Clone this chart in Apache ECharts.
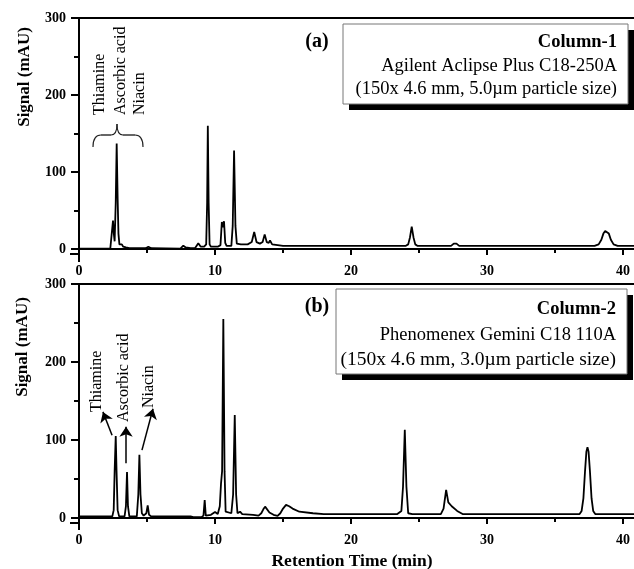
<!DOCTYPE html>
<html>
<head>
<meta charset="utf-8">
<script src="https://cdn.jsdelivr.net/npm/echarts@6/dist/echarts.min.js"></script>
<style>html,body{margin:0;padding:0;background:#fff}#c{width:634px;height:569px}</style>
</head>
<body>
<div id="c"></div>
<script>
// Panel (a): Column-1 chromatogram (retention time in min, signal in mAU)
const timesA = [0, 2.3, 2.42, 2.5, 2.56, 2.62, 2.7, 2.77, 2.84, 2.9, 2.97, 3.05, 3.15, 3.25, 3.35, 3.45, 3.7, 4.9, 5.1, 5.3,
  7.45, 7.67, 7.85, 8.2, 8.55, 8.77, 8.95, 9.2, 9.35, 9.42, 9.47, 9.53, 9.6, 9.7, 10.2, 10.4, 10.5, 10.58, 10.66, 10.75, 10.85,
  11.2, 11.3, 11.4, 11.5, 11.6, 11.9, 12.4, 12.7, 12.88, 13.05, 13.3, 13.5, 13.65, 13.8, 13.95, 14.04, 14.2, 14.6, 15,
  24.0, 24.2, 24.33, 24.46, 24.59, 24.72, 24.9, 27.35, 27.55, 27.65, 27.75, 27.95,
  37.9, 38.2, 38.4, 38.55, 38.68, 38.75, 38.82, 38.95, 39.1, 39.3, 39.6, 41];
const signalA = [0.5, 0.5, 2, 37, 20, 10, 60, 137, 66, 20, 6, 4, 6, 3, 5, 2, 1, 1, 3, 1,
  0.5, 4.3, 2, 1, 1.5, 7.4, 3, 3, 6, 60, 160, 60, 6, 3, 3, 5, 35, 28, 36, 8, 4,
  4, 30, 128, 30, 7, 6, 6, 9, 22, 9, 7, 9, 19, 9, 8, 11, 6, 5, 4,
  4, 6, 15, 29, 15, 6, 4, 4, 7, 9.5, 7, 4,
  4, 6, 12, 20, 23.5, 24, 23.5, 20, 12, 6, 4, 4];
// Panel (b): Column-2 chromatogram
const timesB = [0, 2.45, 2.55, 2.62, 2.7, 2.76, 2.84, 2.95, 3.35, 3.45, 3.53, 3.6, 3.7, 4.25, 4.36, 4.44, 4.52, 4.62, 4.75, 4.95, 5.05, 5.15, 5.3,
  8.2, 8.4, 9.0, 9.15, 9.24, 9.32, 9.7, 10.0, 10.2, 10.35, 10.44, 10.52, 10.61, 10.7, 10.78, 11.2, 11.33, 11.45, 11.55, 11.65, 11.84, 12.0,
  12.8, 13.2, 13.4, 13.55, 13.68, 13.82, 14.0, 14.3, 14.6, 14.8, 15.0, 15.22, 15.45, 15.7, 16.2, 17.2, 18,
  23.4, 23.7, 23.82, 23.95, 24.07, 24.2, 24.5, 26.6, 26.8, 26.99, 27.15, 27.4, 27.8, 28.2,
  36.8, 36.95, 37.08, 37.2, 37.3, 37.38, 37.46, 37.56, 37.68, 37.8, 37.95, 41];
const signalB = [2, 2, 10, 60, 105, 60, 10, 2, 2, 15, 59, 15, 2, 2, 30, 81, 30, 6, 3, 6, 16, 4, 2,
  2, 1, 1, 3, 23, 3, 4, 7.7, 5, 15, 44, 60, 255, 60, 8, 6, 30, 132, 30, 6, 8, 5,
  4, 3, 6, 11, 14.5, 12, 7, 4, 2.5, 6, 12, 16.7, 15, 12, 8, 6, 5,
  5, 9, 40, 113, 40, 6, 5, 5, 12, 36, 20, 15, 9, 5,
  5, 9, 25, 60, 85, 90.6, 85, 60, 25, 9, 5, 5];
const xTickLabels = [0, 10, 20, 30, 40];
const xMinorTicks = [5, 15, 25, 35];
const yTickLabels = [0, 100, 200, 300];
const yMinorTicks = [50, 150, 250];
const peakNames = ['Thiamine', 'Ascorbic acid', 'Niacin'];
const columnA = ['Column-1', 'Agilent Aclipse Plus C18-250A', '(150x 4.6 mm, 5.0\u00b5m particle size)'];
const columnB = ['Column-2', 'Phenomenex Gemini C18 110A', '(150x 4.6 mm, 3.0\u00b5m particle size)'];
// arrows in panel (b), in data units [time, signal]
const arrowsB = [[[2.43, 106], [1.76, 136]], [[3.46, 70], [3.46, 117]], [[4.63, 87], [5.44, 140]]];

const SERIF = '"Liberation Serif", "DejaVu Serif", serif';
const X_MAX = 40.8, Y_MIN = -6.5, Y_MAX = 300;

function xAxes(g) {
  return [
    { gridIndex: g, type: 'value', min: 0, max: X_MAX, position: 'bottom',
      axisLine: { show: true, lineStyle: { color: '#000', width: 2 } },
      axisTick: { show: true, customValues: xTickLabels, length: 6, lineStyle: { color: '#000', width: 2 } },
      axisLabel: { show: true, customValues: xTickLabels, margin: 10, color: '#000', fontFamily: SERIF, fontWeight: 'bold', fontSize: 14 },
      splitLine: { show: false } },
    { gridIndex: g, type: 'value', min: 0, max: X_MAX, position: 'bottom',
      axisLine: { show: false },
      axisTick: { show: true, customValues: xMinorTicks, length: 4, lineStyle: { color: '#000', width: 2 } },
      axisLabel: { show: false }, splitLine: { show: false } },
    { gridIndex: g, type: 'value', min: 0, max: X_MAX, position: 'top',
      axisLine: { show: true, lineStyle: { color: '#000', width: 2 } },
      axisTick: { show: false }, axisLabel: { show: false }, splitLine: { show: false } }
  ];
}
function yAxes(g) {
  return [
    { gridIndex: g, type: 'value', min: Y_MIN, max: Y_MAX, position: 'left',
      axisLine: { show: true, lineStyle: { color: '#000', width: 2 } },
      axisTick: { show: true, customValues: yTickLabels, length: 8, lineStyle: { color: '#000', width: 2 } },
      axisLabel: { show: true, customValues: yTickLabels, margin: 13, color: '#000', fontFamily: SERIF, fontWeight: 'bold', fontSize: 14 },
      splitLine: { show: false } },
    { gridIndex: g, type: 'value', min: Y_MIN, max: Y_MAX, position: 'left', offset: 0,
      axisLine: { show: false },
      axisTick: { show: true, customValues: yMinorTicks, length: 5, lineStyle: { color: '#000', width: 2 } },
      axisLabel: { show: false }, splitLine: { show: false } }
  ];
}

function boxGroup(x, y, w, h, lines, rightX, ys, fs) {
  const els = [
    { type: 'rect', shape: { x: x + 6, y: y + 6, width: w, height: h }, style: { fill: '#000' } },
    { type: 'rect', shape: { x: x, y: y, width: w, height: h }, style: { fill: '#fff', stroke: '#777', lineWidth: 1 } }
  ];
  lines.forEach((t, i) => {
    els.push({ type: 'text', x: rightX, y: ys[i], style: { text: t, fill: '#000', font: (i === 0 ? 'bold ' : '') + fs[i] + 'px ' + SERIF, textAlign: 'right', textVerticalAlign: 'middle' } });
  });
  return els;
}
function vtext(t, x, y, fs) {
  return { type: 'text', x: x, y: y, rotation: Math.PI / 2,
    style: { text: t, fill: '#000', font: fs + 'px ' + SERIF, textAlign: 'left', textVerticalAlign: 'middle' } };
}
function curve(x1, y1, cx, cy, x2, y2) {
  return { type: 'bezierCurve', shape: { x1: x1, y1: y1, cpx1: cx, cpy1: cy, x2: x2, y2: y2 },
    style: { fill: 'none', stroke: '#222', lineWidth: 1.2 } };
}
function seg(x1, y1, x2, y2, w) {
  return { type: 'line', shape: { x1: x1, y1: y1, x2: x2, y2: y2 }, style: { stroke: '#000', lineWidth: w || 1.2 } };
}

const chart = echarts.init(document.getElementById('c'), null, { renderer: 'canvas' });
const graphic = [].concat(
  boxGroup(343, 24, 285, 80, columnA, 617, [42, 66, 89], [18.5, 18.5, 18.5]),
  boxGroup(336, 289, 291, 85, columnB, 616, [309, 335, 360], [18.5, 18.5, 19.5]),
  [
    { type: 'text', x: 317, y: 42, style: { text: '(a)', fill: '#000', font: 'bold 20px ' + SERIF, textAlign: 'center', textVerticalAlign: 'middle' } },
    { type: 'text', x: 317, y: 307, style: { text: '(b)', fill: '#000', font: 'bold 20px ' + SERIF, textAlign: 'center', textVerticalAlign: 'middle' } },
    { type: 'text', x: 25, y: 77, rotation: Math.PI / 2, style: { text: 'Signal (mAU)', fill: '#000', font: 'bold 17px ' + SERIF, textAlign: 'center', textVerticalAlign: 'middle' } },
    { type: 'text', x: 23, y: 347, rotation: Math.PI / 2, style: { text: 'Signal (mAU)', fill: '#000', font: 'bold 17px ' + SERIF, textAlign: 'center', textVerticalAlign: 'middle' } },
    { type: 'text', x: 352, y: 561, style: { text: 'Retention Time (min)', fill: '#000', font: 'bold 17.5px ' + SERIF, textAlign: 'center', textVerticalAlign: 'middle' } },
    vtext(peakNames[0], 100, 115, 16), vtext(peakNames[1], 121, 115, 16), vtext(peakNames[2], 140, 115, 16),
    vtext(peakNames[0], 97, 412, 16), vtext(peakNames[1], 124, 422, 16), vtext(peakNames[2], 149, 408, 16),
    curve(93, 147, 93, 135, 101, 135), seg(101, 135, 111, 135), curve(111, 135, 117, 135, 117, 124),
    curve(117, 124, 117, 135, 123, 135), seg(123, 135, 135, 135), curve(135, 135, 143, 135, 143, 147),
    // axis line extensions at the frame corners
    seg(70, 254, 79, 254, 2), seg(79, 254, 79, 262, 2),
    seg(70, 523, 79, 523, 2), seg(79, 523, 79, 530, 2)
  ]
);

chart.setOption({
  animation: false,
  backgroundColor: '#fff',
  grid: [
    { left: 79, right: 0, top: 18, bottom: 315 },
    { left: 79, right: 0, top: 284, bottom: 46 }
  ],
  xAxis: xAxes(0).concat(xAxes(1)),
  yAxis: yAxes(0).concat(yAxes(1)),
  series: [
    { type: 'line', xAxisIndex: 0, yAxisIndex: 0, data: timesA.map((t, i) => [t, signalA[i]]),
      showSymbol: false, symbol: 'none', lineStyle: { color: '#000', width: 1.8 }, silent: true, clip: true },
    { type: 'line', xAxisIndex: 3, yAxisIndex: 2, data: timesB.map((t, i) => [t, signalB[i]]),
      showSymbol: false, symbol: 'none', lineStyle: { color: '#000', width: 1.8 }, silent: true, clip: false,
      markLine: { silent: true, symbol: ['none', 'arrow'], symbolSize: 10, label: { show: false },
        lineStyle: { color: '#000', width: 1.5, type: 'solid' }, emphasis: { disabled: true },
        data: arrowsB.map(a => [{ coord: a[0] }, { coord: a[1] }]) } }
  ],
  graphic: graphic
});
</script>
</body>
</html>
